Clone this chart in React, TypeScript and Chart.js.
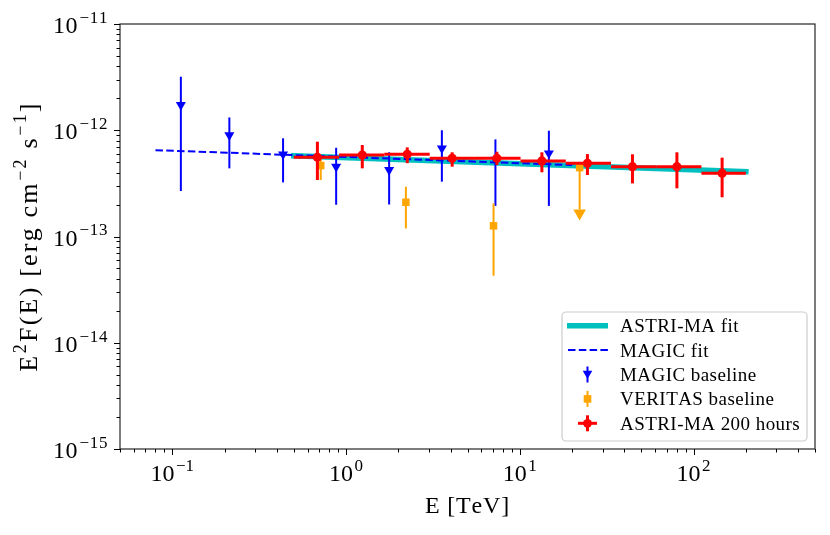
import React, { useEffect, useRef } from "react";
import { Chart, registerables } from "chart.js";

Chart.register(...registerables);

// ---------------- data ----------------
const xTickExps = [-1, 0, 1, 2];
const yTickExps = [-15, -14, -13, -12, -11];

const astriFitE = [0.5, 200];
const astriFitF = [5.75e-13, 4.07e-13];

const magicFitE = [0.08, 20];
const magicFitF = [6.5e-13, 4.7e-13];

const magicE = [0.112, 0.213, 0.434, 0.877, 1.77, 3.56, 7.24, 14.7];
const magicF = [1.73e-12, 9.0e-13, 5.94e-13, 4.54e-13, 4.23e-13, 6.76e-13, 5.3e-13, 6.07e-13];
const magicLo = [2.68e-13, 4.38e-13, 3.23e-13, 1.99e-13, 2.0e-13, 3.28e-13, 1.94e-13, 1.94e-13];
const magicHi = [3.19e-12, 1.32e-12, 8.4e-13, 6.84e-13, 6.2e-13, 1.0e-12, 8.2e-13, 9.9e-13];

const veritasE = [0.715, 2.21, 7.06, 22.1];
const veritasF = [4.65e-13, 2.1e-13, 1.26e-13, 4.45e-13];
const veritasLo = [3.4e-13, 1.19e-13, 4.27e-14, 1.8e-13];
const veritasHi = [5.6e-13, 2.94e-13, 2.05e-13, 4.45e-13];
const veritasUpperLimit = [false, false, false, true];

const astriE = [0.684, 1.24, 2.25, 4.08, 7.38, 13.4, 24.5, 44.5, 80.2, 146];
const astriEmin = [0.5, 0.912, 1.66, 3.03, 5.52, 10.1, 18.4, 33.5, 61.0, 111];
const astriEmax = [0.912, 1.66, 3.03, 5.52, 10.1, 18.4, 33.5, 61.0, 111, 200];
const astriF = [5.56e-13, 5.85e-13, 5.93e-13, 5.45e-13, 5.45e-13, 5.14e-13, 4.89e-13, 4.54e-13, 4.54e-13, 3.94e-13];
const astriLo = [3.4e-13, 4.38e-13, 4.9e-13, 4.54e-13, 4.7e-13, 4.02e-13, 3.79e-13, 3.16e-13, 2.84e-13, 2.34e-13];
const astriHi = [7.8e-13, 7.26e-13, 6.9e-13, 6.2e-13, 6.28e-13, 6.2e-13, 5.97e-13, 5.94e-13, 6.2e-13, 5.52e-13];

const legendLabels = ["ASTRI-MA fit", "MAGIC fit", "MAGIC baseline", "VERITAS baseline", "ASTRI-MA 200 hours"];
const xTitle = "E [TeV]";
const yTitleParts: [string, boolean][] = [
  ["E", false], ["2", true], ["F(E) [erg cm", false], ["\u22122", true], [" s", false], ["\u22121", true], ["]", false],
];

const X_MIN = 0.05, X_MAX = 500, Y_MIN = 1e-15, Y_MAX = 1e-11;

// ---------------- styles ----------------
const FONT = '"Liberation Serif", "Times New Roman", serif';
const CYAN = "#00BFBF";
const BLUE = "#0000FF";
const ORANGE = "#FFA500";
const RED = "#FF0000";

const pts = (xs: number[], ys: number[]) => xs.map((v, i) => ({ x: v, y: ys[i] }));

function seg(ctx: CanvasRenderingContext2D, x1: number, y1: number, x2: number, y2: number) {
  ctx.beginPath();
  ctx.moveTo(x1, y1);
  ctx.lineTo(x2, y2);
  ctx.stroke();
}

// draws text with superscript parts; "extra" adds spacing after each character
function drawSupText(
  ctx: CanvasRenderingContext2D,
  parts: [string, boolean][],
  x: number,
  baseline: number,
  size: number,
  extra = 0,
  supGap = 0,
  draw = true
) {
  let cx = x;
  for (const [t, sup] of parts) {
    ctx.font = `${sup ? Math.round(size * 0.7) : size}px ${FONT}`;
    if (sup) cx += supGap;
    for (const ch of t) {
      if (draw) ctx.fillText(ch, cx, sup ? baseline - size * 0.42 : baseline);
      cx += ctx.measureText(ch).width + extra;
    }
  }
  return cx - x;
}

const errorPlugin = {
  id: "errorBars",
  beforeDatasetDraw(chart: any, args: any) {
    const { ctx, chartArea, scales } = chart;
    const xs = scales.x, ys = scales.y;
    ctx.save();
    ctx.beginPath();
    ctx.rect(chartArea.left, chartArea.top, chartArea.right - chartArea.left, chartArea.bottom - chartArea.top);
    ctx.clip();
    ctx.lineCap = "butt";
    if (args.index === 2) {
      ctx.strokeStyle = BLUE;
      ctx.lineWidth = 2;
      magicE.forEach((e, k) => {
        const px = xs.getPixelForValue(e);
        seg(ctx, px, ys.getPixelForValue(magicLo[k]), px, ys.getPixelForValue(magicHi[k]));
      });
    } else if (args.index === 3) {
      ctx.strokeStyle = ORANGE;
      ctx.fillStyle = ORANGE;
      ctx.lineWidth = 2;
      veritasE.forEach((e, k) => {
        const px = xs.getPixelForValue(e);
        const lo = ys.getPixelForValue(veritasLo[k]);
        const hi = ys.getPixelForValue(veritasHi[k]);
        seg(ctx, px, lo, px, hi);
        if (veritasUpperLimit[k]) {
          ctx.beginPath();
          ctx.moveTo(px - 6.3, lo);
          ctx.lineTo(px + 6.3, lo);
          ctx.lineTo(px, lo + 11);
          ctx.closePath();
          ctx.fill();
        }
      });
    } else if (args.index === 4) {
      ctx.strokeStyle = RED;
      ctx.lineWidth = 3;
      astriE.forEach((e, k) => {
        const px = xs.getPixelForValue(e);
        const py = ys.getPixelForValue(astriF[k]);
        seg(ctx, px, ys.getPixelForValue(astriLo[k]), px, ys.getPixelForValue(astriHi[k]));
        seg(ctx, xs.getPixelForValue(astriEmin[k]), py, xs.getPixelForValue(astriEmax[k]), py);
      });
    }
    ctx.restore();
  },
  afterDraw(chart: any) {
    const { ctx, chartArea, scales } = chart;
    const xs = scales.x, ys = scales.y;
    const { left, right, top, bottom } = chartArea;
    ctx.save();

    // frame
    ctx.strokeStyle = "#262626";
    ctx.lineWidth = 1.2;
    ctx.strokeRect(left, top, right - left, bottom - top);

    // ticks
    ctx.strokeStyle = "#000";
    ctx.lineWidth = 1;
    for (let d = -2; d <= 2; d++) {
      for (let m = 1; m <= 9; m++) {
        const v = m * Math.pow(10, d);
        if (v < X_MIN * 0.999 || v > X_MAX * 1.001) continue;
        const px = Math.round(xs.getPixelForValue(v)) + 0.5;
        seg(ctx, px, bottom, px, bottom + (m === 1 ? 6 : 3.5));
      }
    }
    for (let d = -15; d <= -11; d++) {
      for (let m = 1; m <= 9; m++) {
        const v = m * Math.pow(10, d);
        if (v < Y_MIN * 0.999 || v > Y_MAX * 1.001) continue;
        const py = Math.round(ys.getPixelForValue(v)) + 0.5;
        seg(ctx, left, py, left - (m === 1 ? 6 : 3.5), py);
      }
    }

    // tick labels
    ctx.fillStyle = "#000";
    ctx.textAlign = "left";
    ctx.textBaseline = "alphabetic";
    const TS = 24;
    xTickExps.forEach((e) => {
      const parts: [string, boolean][] = [["10", false], [e < 0 ? "\u2212" + Math.abs(e) : String(e), true]];
      const w = drawSupText(ctx, parts, 0, 0, TS, 0, 1.5, false);
      const px = xs.getPixelForValue(Math.pow(10, e));
      drawSupText(ctx, parts, px - w / 2, 481, TS, 0, 1.5);
    });
    yTickExps.forEach((e) => {
      const parts: [string, boolean][] = [["10", false], ["\u2212" + Math.abs(e), true]];
      const w = drawSupText(ctx, parts, 0, 0, TS, 0.6, 1.5, false);
      const py = ys.getPixelForValue(Math.pow(10, e));
      drawSupText(ctx, parts, 108 - w, py + 9, TS, 0.6, 1.5);
    });

    // axis titles
    ctx.font = `24px ${FONT}`;
    const xw = drawSupText(ctx, [[xTitle, false]], 0, 0, 24, 0.8, 0, false);
    drawSupText(ctx, [[xTitle, false]], (left + right) / 2 - xw / 2, 513, 24, 0.8);
    const TT = 26;
    const yw = drawSupText(ctx, yTitleParts, 0, 0, TT, 2.2, 0.5, false);
    ctx.save();
    ctx.translate(37, (top + bottom) / 2);
    ctx.rotate(-Math.PI / 2);
    drawSupText(ctx, yTitleParts, -yw / 2, 0, TT, 2.2, 0.5);
    ctx.restore();

    // legend
    const lx = 562, ly = 312, lw = 245, lh = 129;
    ctx.beginPath();
    (ctx as any).roundRect(lx, ly, lw, lh, 4);
    ctx.fillStyle = "rgba(255,255,255,0.85)";
    ctx.fill();
    ctx.strokeStyle = "#cccccc";
    ctx.lineWidth = 1.2;
    ctx.stroke();
    const rowY = (i: number) => 325.7 + i * 24.4;
    const mx = 587.5;
    // row 0: cyan line
    ctx.strokeStyle = CYAN;
    ctx.lineWidth = 5.5;
    seg(ctx, 567, rowY(0), 608, rowY(0));
    // row 1: dashed
    ctx.strokeStyle = BLUE;
    ctx.lineWidth = 2;
    ctx.setLineDash([7.5, 3.3]);
    seg(ctx, 568, rowY(1), 608, rowY(1));
    ctx.setLineDash([]);
    // row 2: magic marker
    seg(ctx, mx, rowY(2) - 8, mx, rowY(2) + 8);
    ctx.fillStyle = BLUE;
    ctx.beginPath();
    ctx.moveTo(mx - 4.8, rowY(2) - 3.8);
    ctx.lineTo(mx + 4.8, rowY(2) - 3.8);
    ctx.lineTo(mx, rowY(2) + 4.6);
    ctx.closePath();
    ctx.fill();
    // row 3: veritas
    ctx.strokeStyle = ORANGE;
    ctx.fillStyle = ORANGE;
    seg(ctx, mx, rowY(3) - 8, mx, rowY(3) + 8);
    ctx.fillRect(mx - 3.8, rowY(3) - 3.8, 7.6, 7.6);
    // row 4: astri
    ctx.strokeStyle = RED;
    ctx.fillStyle = RED;
    ctx.lineWidth = 3;
    seg(ctx, mx, rowY(4) - 8, mx, rowY(4) + 8);
    seg(ctx, mx - 9.5, rowY(4), mx + 9.5, rowY(4));
    ctx.beginPath();
    ctx.arc(mx, rowY(4), 4.4, 0, Math.PI * 2);
    ctx.fill();
    // labels
    ctx.fillStyle = "#000";
    legendLabels.forEach((t, i) => drawSupText(ctx, [[t, false]], 620, rowY(i) + 6.5, 19, 0.45));

    ctx.restore();
  },
};

export default function App() {
  const ref = useRef<HTMLCanvasElement | null>(null);
  useEffect(() => {
    document.body.style.margin = "0";
    const canvas = ref.current!;
    const chart = new Chart(canvas, {
      type: "scatter",
      data: {
        datasets: [
          {
            label: legendLabels[0],
            data: pts(astriFitE, astriFitF),
            showLine: true,
            borderColor: CYAN,
            borderWidth: 5.5,
            borderCapStyle: "square",
            pointRadius: 0,
            order: 5,
          },
          {
            label: legendLabels[1],
            data: pts(magicFitE, magicFitF),
            showLine: true,
            borderColor: BLUE,
            borderWidth: 2,
            borderDash: [7.5, 3.3],
            pointRadius: 0,
            order: 4,
          },
          {
            label: legendLabels[2],
            data: pts(magicE, magicF),
            pointStyle: "triangle",
            rotation: 180,
            pointRadius: 5.8,
            borderWidth: 0,
            backgroundColor: BLUE,
            borderColor: BLUE,
            order: 3,
          },
          {
            label: legendLabels[3],
            data: pts(veritasE, veritasF),
            pointStyle: "rect",
            pointRadius: 5.3,
            borderWidth: 0,
            backgroundColor: ORANGE,
            borderColor: ORANGE,
            order: 2,
          },
          {
            label: legendLabels[4],
            data: pts(astriE, astriF),
            pointStyle: "circle",
            pointRadius: 4.6,
            borderWidth: 0,
            backgroundColor: RED,
            borderColor: RED,
            order: 1,
          },
        ],
      },
      options: {
        animation: false,
        responsive: false,
        maintainAspectRatio: false,
        devicePixelRatio: 1,
        layout: { padding: { top: 24, right: 15, left: 0, bottom: 0 } },
        scales: {
          x: {
            type: "logarithmic",
            min: X_MIN,
            max: X_MAX,
            ticks: { display: false },
            grid: { display: false },
            border: { display: false },
            afterFit: (s: any) => {
              s.height = 86;
            },
          },
          y: {
            type: "logarithmic",
            min: Y_MIN,
            max: Y_MAX,
            ticks: { display: false },
            grid: { display: false },
            border: { display: false },
            afterFit: (s: any) => {
              s.width = 120;
            },
          },
        },
        plugins: { legend: { display: false }, tooltip: { enabled: false } },
      } as any,
      plugins: [errorPlugin],
    });
    return () => chart.destroy();
  }, []);
  return (
    <div style={{ width: 830, height: 535, background: "#fff" }}>
      <canvas ref={ref} width={830} height={535} style={{ display: "block" }} />
    </div>
  );
}
